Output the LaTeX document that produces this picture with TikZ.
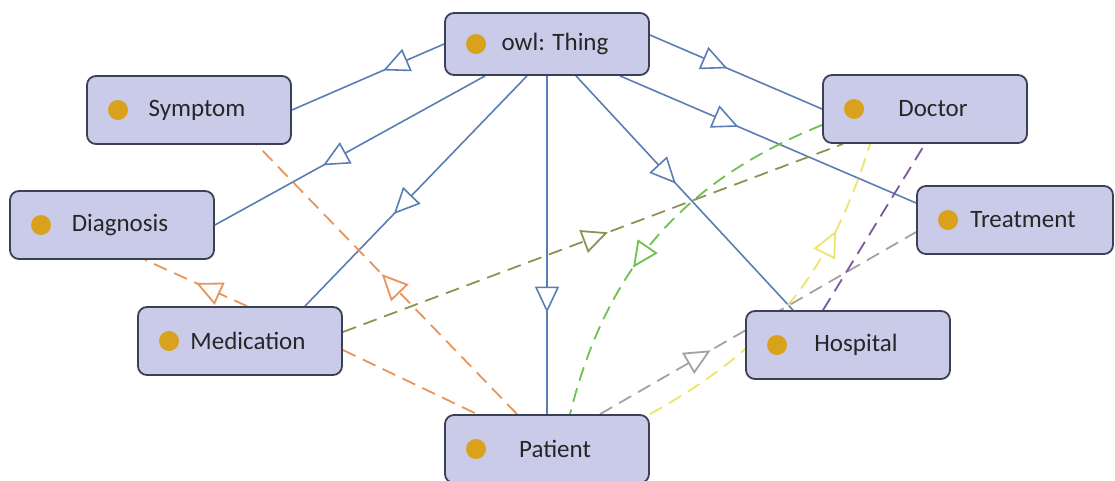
\documentclass[tikz,border=0pt]{standalone}
\usepackage{fontspec}
\setmainfont{Carlito}
\usetikzlibrary{arrows.meta,decorations.markings,backgrounds}
\definecolor{boxfill}{HTML}{CACBE9}
\definecolor{boxrule}{HTML}{3B4054}
\definecolor{dotc}{HTML}{D9A11C}
\definecolor{isablue}{HTML}{5B7DB4}
\definecolor{propor}{HTML}{E8945A}
\definecolor{propol}{HTML}{8E9352}
\definecolor{propgr}{HTML}{6FC04F}
\definecolor{propye}{HTML}{ECE46C}
\definecolor{propgy}{HTML}{A2A2A2}
\definecolor{proppu}{HTML}{7B589F}

\begin{document}
\begin{tikzpicture}[x=1pt,y=-1pt,
  cls/.style={draw=boxrule,fill=boxfill,line width=1.8pt,rounded corners=9pt,
    minimum width=204pt,minimum height=68pt,font=\fontsize{25}{30}\selectfont,
    text=black!85,execute at begin node=\hspace*{16pt},
    path picture={\fill[dotc] ([xshift=31pt]path picture bounding box.west) circle (10pt);}},
  hollow/.tip={Triangle[open,fill=white,length=26pt,width=24pt]},
  isa/.style={draw=isablue,line width=1.6pt,postaction={decorate},
    decoration={markings,mark=at position #1 with {\arrow{hollow}}}},
  rel/.style={draw=#1,line width=1.8pt,dash pattern=on 14pt off 8pt},
  relarr/.style 2 args={rel=#1,postaction={decorate},
    decoration={markings,mark=at position #2 with {\arrow{hollow}}}}]

\useasboundingbox (0,0) rectangle (1115,480);

\node[cls,minimum height=62pt] (thing) at (547,44) {owl: Thing};
\node[cls] (symp) at (189,110) {Symptom};
\node[cls] (diag) at (112,225) {Diagnosis};
\node[cls] (medi) at (240,341) {Medication};
\node[cls] (pati) at (547,449) {Patient};
\node[cls] (hosp) at (848,345) {Hospital};
\node[cls] (doct) at (925,109) {Doctor};
\node[cls,minimum width=196pt] (trea) at (1015,220) {Treatment};

\begin{scope}[on background layer]
  \draw[isa=0.4] (thing.west) -- (symp.east);
  \draw[isa=0.6] ([xshift=41pt]thing.south west) -- (diag.east);
  \draw[isa=0.6] ([xshift=-20pt]thing.south) -- ([xshift=65pt]medi.north);
  \draw[isa=0.7] (thing.south) -- (pati.north);
  \draw[isa=0.46] ([xshift=29pt]thing.south) -- ([xshift=-55pt]hosp.north);
  \draw[isa=0.4] ([xshift=73pt]thing.south) -- ([yshift=17pt]trea.west);
  \draw[isa=0.45] ([yshift=9pt]thing.east) -- (doct.west);

  \draw[relarr={propor}{0.52}] ([xshift=-30pt]pati.north) -- ([xshift=68pt]symp.south);
  \draw[relarr={propor}{0.5}] ([xshift=7pt]medi.north) -- ([xshift=33pt]diag.south);
  \draw[rel=propor] ([yshift=-9pt]medi.east) -- ([xshift=-70pt]pati.north);
  \draw[relarr={propol}{0.53}] ([yshift=9pt]medi.east) -- ([xshift=-82pt]doct.south);
  \draw[relarr={propgr}{0.6}] ([yshift=-16pt]doct.west) to[bend right=27] ([xshift=23pt]pati.north);
  \draw[relarr={propye}{0.74}] (pati.north east) to[bend right=22] ([xshift=-55pt]doct.south);
  \draw[relarr={propgy}{0.35}] ([xshift=53pt]pati.north) -- ([yshift=-12pt]trea.west);
  \draw[rel=proppu] ([xshift=-25pt]hosp.north) -- (doct.south);
\end{scope}
\end{tikzpicture}
\end{document}
